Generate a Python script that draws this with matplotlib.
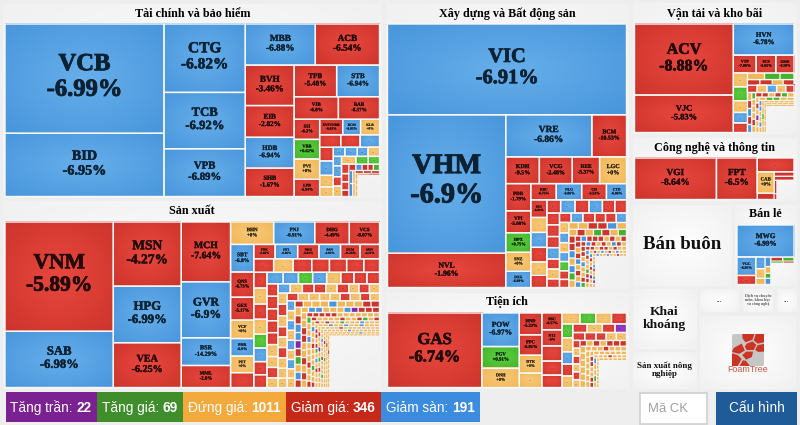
#!/usr/bin/env python
# market heatmap by sector, tiles laid out in strips from their areas (px^2)

import matplotlib
matplotlib.use("Agg")
import matplotlib.pyplot as plt
import matplotlib.patheffects as pe
from matplotlib.patches import Polygon, Rectangle, FancyBboxPatch
import numpy as np

# ---- data: each strip is one row or column of tiles, sizes are tile areas ----
fin_labels = ["VCB", "BID", "CTG", "TCB", "VPB", "MBB", "ACB", "BVH", "EIB", "HDB", "SHB", "TPB", "STB",
              "VIB", "BAB", "SSI", "VBB", "PVI", "LPB", "EVFVNDB", "BCM", "KLB"]
fin_changes = [-6.99, -6.95, -6.82, -6.92, -6.89, -6.88, -6.54, -3.46, -2.82, -6.94, -1.67, -5.48, -6.94,
               -6.8, -8.37, -6.2, 0.62, 0, -5.94, -6.63, -6.83, 0]
fin_sizes = [[17380, 10050], [5560, 4580, 3880], [2880, 2640], [1975, 1553, 1504, 1387], [1341, 1353],
             [1000, 930], [512, 502, 512, 442], [357, 277, 293], [264, 243, 243], [187, 196, 157, 132],
             [104, 113, 97, 104], [77, 90, 77, 85], [110, 96, 86], [70, 60, 60, 48],
             [45, 40, 38, 35, 40], [50, 50], [33, 33], [24, 24, 24], [14, 14, 14, 14], [12, 12], [10]]
fin_colors = ["BB", "BBB", "BR", "RRBR", "RB", "RR", "RGOR", "RBO", "RRB", "RBOO", "BBBO", "BBRO", "OGG",
              "RRRR", "RBRRG", "BB", "OO", "RRR", "OOOO", "OR", "R"]

ind_labels = ["VNM", "SAB", "MSN", "HPG", "VEA", "MCH", "GVR", "BSR", "MML", "BHN", "PNJ", "DHG", "VCS",
              "SBT", "QNS", "GEX", "VCF", "PHR", "PET", None, "PNK", "HT1", "NKG", "PAN", "DCM", "MSV"]
ind_changes = [-5.89, -6.98, -4.27, -6.99, -6.25, -7.64, -6.9, -14.29, -2.8, 0, -6.91, -4.49, -8.07,
               -6.8, -6.73, -5.17, 0, -6.9, 0, None, -5.66, -6.86, -5.61, -6.82, -11.26, -6.11]
ind_sizes = [[11840, 6086], [4365, 3842, 3046], [2943, 2760, 1365, 1085], [965, 920, 776, 676],
             [641, 587, 532, 427, 408, 385, 345], [304, 323, 304, 309, 279, 279],
             [270, 266, 252, 242, 234, 234, 214], [206, 210, 200, 196, 182, 178, 172, 168],
             [186, 174, 162, 160, 162, 150, 148, 144], [138, 138, 132, 132, 132, 132, 120, 114, 108],
             [115, 115, 110, 110, 107, 110, 95, 100, 95], [100, 105, 100, 95, 95, 95, 95, 90, 85],
             [84, 80, 80, 80, 76, 76, 76, 72, 72], [76, 76, 76, 76, 76, 72, 72, 72, 72],
             [55] * 10, [55, 55, 55, 52, 52, 52, 52, 50, 50, 50], [38] * 11, [41] * 10, [27] * 12, [28] * 11,
             [22] * 12, [21] * 12, [15] * 13, [15] * 13, [14] * 12, [14] * 12,
             [12] * 13, [12] * 13, [10] * 14, [10] * 13, [9] * 13, [9] * 12, [8] * 12, [8] * 11]
ind_colors = ["RB", "RBR", "RBBR", "OBRR", "BRROBOR", "RBRBRR", "RORRRRR", "ROROGBRR", "BBGBORRR", "RRRRROORO",
              "BORRORORO", "OROROROOO", "ROOOORORO", "BOBOBOBOO", "ROOOBOOORR", "ORBBPRGOBR", "OBBOOOBPRRR",
              "OORROORORO", "RRRRROOOOOOO", "GOOBOOOROOR", "ROOOOROORGOR", "OBOOROOOGOOR", "ROROOGOOOBOOO",
              "ORRORGOBOROOO", "OOBOOBOOBOOO", "OROOPOGOROOO", "OOOOROOOOOOOO", "OOBOOOROOOGOO", "OOOOOOBOOOOOOO",
              "OOROOOGOOOOOO", "OOOOOOOOBOOOO", "OOROOOOOOOOO", "OOOOOOOOOOOO", "OOOROOOOOOO"]

con_labels = ["VIC", "VHM", "NVL", "VRE", "BCM", "KDH", "VCG", "REE", "LGC", "PDR", "VPI", "HPX", "SNZ", "DXG",
              "KBC", "NLG", "CII", "CTD", "DIG"]
con_changes = [-6.91, -6.9, -1.96, -6.86, -10.53, -9.5, -2.48, -5.37, 0, -1.79, -5.08, 0.75, 0, -6.99,
               -6.75, -6.86, -5.53, -6.86, -6.93]
con_sizes = [[21700], [16365, 4050], [3625, 1457], [900, 880, 730, 720], [683, 550, 492, 475, 408],
             [413, 413, 402, 326], [283, 240, 240, 235, 213, 197], [182, 190, 186, 177, 164, 155],
             [148, 148, 140, 143, 127, 123, 110], [109, 109, 112, 100, 100, 96], [97, 90, 90, 85, 85, 80, 75],
             [66] * 6, [55] * 7, [48] * 7, [32] * 9, [32] * 8, [24] * 9, [24] * 8, [18] * 9, [18] * 8,
             [12] * 10, [14] * 8, [10] * 10, [11] * 8]
con_colors = ["B", "BR", "BR", "RRRO", "RRGOB", "RBRB", "ROBROR", "RBRBRR", "RRRBROR", "RBRRRB", "OBOBGRR",
              "OORRBO", "OROGROG", "RRBOBGO", "RBRRROROR", "RORBOROB", "RBROROBRO", "RROBOORG", "RRORROROO",
              "BROOGRRO", "OROBOROBOO", "BROROPOO", "OBOOBOOROO", "OOBROGPO"]

uti_labels = ["GAS", "POW", "PGV", "DNH", "HND", "PPC", "DTK", None, "BSC", "NT2"]
uti_changes = [-6.74, -6.97, 0.91, 0, -5.23, -5.91, 0, None, -6.57, -6]
uti_sizes = [[7030], [1256, 818, 716], [492, 461, 402, 325], [339, 325, 305, 284, 250], [195, 172, 172, 164],
             [150, 150, 132, 128, 124], [123, 132, 108, 100], [94, 88, 80, 80, 80], [56] * 6, [39] * 7, [39] * 6,
             [28] * 7, [26] * 6, [20] * 7, [20] * 6, [15] * 7, [17] * 5, [9] * 8, [12] * 6]
uti_colors = ["R", "BGO", "RROO", "RRRRR", "OGOR", "GOBRO", "RORP", "RRROO", "RORORO", "RORORRR", "OOOOOO",
              "OOOROOO", "OOOOOO", "ORROORR", "OOOOOO", "OOOROOO", "BOOGO", "OOOOOOOO", "OOOOOO"]

tra_labels = ["ACV", "VJC", "HVN", "VTP", "SCS", "GMD"]
tra_changes = [-8.88, -5.83, -6.78, -7.06, -5.65, -6.58]
tra_sizes = [[7020, 3704], [1887], [406, 350, 324], [195, 195, 165, 147, 135], [115, 104, 94], [70, 70, 61, 61],
             [70, 70, 70, 65, 60], [35] * 5, [26] * 6, [30] * 6, [20] * 6, [24] * 5, [15] * 6, [15] * 5,
             [11] * 6, [12] * 5, [10] * 5, [12] * 4]
tra_colors = ["RR", "B", "RRR", "OGOBR", "OGG", "RROR", "ROBOR", "ORBRB", "GOOORO", "RRORGO", "OROPOO", "OGGOO",
              "BBOOBO", "OOGOO", "OOOOOO", "OOOOO", "OOOOO", "OOOO"]

tec_labels = ["VGI", "FPT", None, "CAB"]
tec_changes = [-8.64, -6.5, None, 0]
tec_sizes = [[3400], [1693], [505], [360, 108], [90], [80], [37, 16]]
tec_colors = ["R", "R", "R", "OR", "R", "R", "RR"]

ret_labels = ["MWG", "VGC"]
ret_changes = [-6.99, -6.95]
ret_sizes = [[1822], [345, 170], [109, 90, 58], [56, 39, 29, 36], [50, 48], [22, 18]]
ret_colors = ["B", "BR", "BOO", "BOGB", "RG", "GR"]

# sector panels, same strip idea on the whole page
panel_names = ["Tài chính và bảo hiểm", "Sản xuất", "Xây dựng và Bất động sản", "Tiện ích", "Vận tải và kho bãi",
               "Công nghệ và thông tin", "Bán buôn", "Bán lẻ", "Khai\nkhoáng", "Sản xuất nông\nnghiệp",
               "...", "Dịch vụ chuyên\nmôn, khoa học\nvà công nghệ", "...", ""]
panel_sizes = [[75735, 73058], [71383, 24700], [22445], [11222], [8712, 5525], [4284, 2720], [1126, 901, 610], [7612]]
panel_fonts = [8.7, 8.7, 8.7, 8.7, 8.7, 8.7, 13.6, 8.7, 9.7, 6.5, 5, 2.9, 5, 5]
panel_tiles = {0: (fin_labels, fin_changes, fin_sizes, fin_colors),
               1: (ind_labels, ind_changes, ind_sizes, ind_colors),
               2: (con_labels, con_changes, con_sizes, con_colors),
               3: (uti_labels, uti_changes, uti_sizes, uti_colors),
               4: (tra_labels, tra_changes, tra_sizes, tra_colors),
               5: (tec_labels, tec_changes, tec_sizes, tec_colors),
               7: (ret_labels, ret_changes, ret_sizes, ret_colors)}

status_names = ["Tăng trần", "Tăng giá", "Đứng giá", "Giảm giá", "Giảm sàn"]
status_counts = [22, 69, 1011, 346, 191]
status_colors = ["#7b2192", "#3f8e2b", "#f4a93c", "#c5291a", "#3b8bde"]

# ---- style ----
SERIF = "Liberation Serif"
SANS = "Liberation Sans"
shades = {"R": ("#e9473e", "#cd352c"), "B": ("#67afeb", "#4996dc"), "O": ("#f7ca7c", "#f2b654"),
          "G": ("#60d141", "#42b32b"), "P": ("#9d3dc7", "#8329ab")}
ink = {"R": "#220b09", "B": "#0c2233", "O": "#33250d", "G": "#0c2807", "P": "#1c0a26"}


def radial(inner, outer, n=24):
    c0 = np.array(matplotlib.colors.to_rgb(inner))
    c1 = np.array(matplotlib.colors.to_rgb(outer))
    yy, xx = np.mgrid[-1:1:n * 1j, -1:1:n * 1j]
    t = np.clip(np.sqrt(xx ** 2 + yy ** 2) / 1.414, 0, 1)[..., None]
    return c0 * (1 - t) + c1 * t


gradients = {k: radial(*v) for k, v in shades.items()}
panel_shade = radial("#fefefe", "#f1f1f1")


def layout(strips, x, y, w, h):
    rects = []
    for strip in strips:
        total = sum(strip)
        if w > h:
            side = total / h
            pos = y
            for s in strip:
                rects.append((x, pos, side, s / side))
                pos += s / side
            x += side
            w -= side
        else:
            side = total / w
            pos = x
            for s in strip:
                rects.append((pos, y, s / side, side))
                pos += s / side
            y += side
            h -= side
    return rects


fig = plt.figure(figsize=(8, 4.25), dpi=100, facecolor="#eeeeee")
ax = fig.add_axes([0, 0, 1, 1])
ax.set_axis_off()


def draw_tile(rect, code, label, change):
    x, y, w, h = rect
    if min(w, h) >= 7:
        ax.imshow(gradients[code], extent=(x, x + w, y + h, y), aspect="auto", interpolation="bilinear", zorder=2)
        # white line over the image edge, images snap to pixels so a plain inset gets lost
        ax.add_patch(Rectangle((x, y), w, h, fc="none", ec="#f8f8f8", lw=1.0, snap=False, zorder=2.5))
    else:
        gap = min(1.4, 0.42 * min(w, h))
        ax.add_patch(Rectangle((x + gap / 2, y + gap / 2), w - gap, h - gap, fc=shades[code][1], ec="none",
                               snap=False, zorder=2))
    cx, cy = x + w / 2, y + h / 2
    if label:
        text = f"{change:+g}%"
        em = min(0.225 * h, 0.62 * w / (0.52 * max(len(label), len(text))))
        size = em * 0.72
        # the reference text is soft and heavy, a thin stroke gets closer
        stroke = [pe.withStroke(linewidth=size * 0.035, foreground=ink[code])]
        for dy, s in ((-0.52 * em, label), (0.52 * em, text)):
            ax.text(cx, cy + dy - 0.02 * h, s, fontsize=size, family=SERIF, weight="bold",
                    color=ink[code], ha="center", va="center", zorder=3, path_effects=stroke)
    elif min(w, h) >= 7:
        ax.text(cx, cy, "...", fontsize=2.8, family=SERIF, weight="bold", color=ink[code], alpha=0.6,
                ha="center", va="center", zorder=3)


# sector panels
flat_panels = layout(panel_sizes, 1, 2, 797, 389)
for i, (x, y, w, h) in enumerate(flat_panels):
    ax.imshow(panel_shade, extent=(x + 2, x + w - 2, y + h - 2, y + 2), aspect="auto", interpolation="bilinear", zorder=1)
    if i in panel_tiles:
        labels, changes, sizes, colors = panel_tiles[i]
        inner = (x + 4, y + 22, w - 8, h - 25.5)
        rects = layout(sizes, *inner)
        codes = "".join(colors)
        if len(rects) != len(codes) or any(len(a) != len(b) for a, b in zip(sizes, colors)):
            raise ValueError(f"panel {i}: {[(n, len(a), len(b)) for n, (a, b) in enumerate(zip(sizes, colors)) if len(a) != len(b)]}")
        for n, rect in enumerate(rects):
            name = labels[n] if n < len(labels) else None
            value = changes[n] if n < len(changes) else None
            draw_tile(rect, codes[n], name, value)
        ax.text(x + w / 2, y + 11.5, panel_names[i], fontsize=panel_fonts[i], family=SERIF, weight="bold",
                color="black", ha="center", va="center", zorder=3)
    elif panel_names[i]:
        ax.text(x + w / 2, y + h / 2 - 1, panel_names[i], fontsize=panel_fonts[i], family=SERIF, weight="bold",
                color="#111111" if panel_fonts[i] > 5 else "#555555", ha="center", va="center", linespacing=1.05, zorder=3)

# FoamTree logo
lx, ly, ls = 732, 334, 32
ax.add_patch(FancyBboxPatch((lx + 2, ly + 2), ls - 4, ls - 4, boxstyle="round,pad=2", fc="#c6c6c6", ec="none", zorder=2))
cells = [[(0.32, 0), (0.70, 0), (0.64, 0.18), (0.42, 0.26), (0.33, 0.14)],
         [(0.74, 0), (1, 0), (1, 0.26), (0.80, 0.30), (0.68, 0.2)],
         [(0.46, 0.30), (0.64, 0.23), (0.76, 0.34), (0.68, 0.50), (0.46, 0.50), (0.40, 0.40)],
         [(0.80, 0.35), (1, 0.31), (1, 0.55), (0.82, 0.56), (0.72, 0.50)],
         [(0.05, 0.44), (0.30, 0.30), (0.36, 0.42), (0.40, 0.52), (0.22, 0.62), (0, 0.56)],
         [(0.44, 0.55), (0.66, 0.55), (0.62, 0.72), (0.44, 0.80), (0.32, 0.66)],
         [(0, 0.60), (0.18, 0.66), (0.30, 0.78), (0.18, 1), (0, 1)],
         [(0.34, 0.82), (0.44, 0.84), (0.56, 1), (0.24, 1)]]
for cell in cells:
    pts = [(lx + px * ls, ly + py * ls) for px, py in cell]
    ax.add_patch(Polygon(pts, closed=True, fc="#cb3322", ec="none", zorder=3))
ax.text(lx + ls / 2, 369.5, "FoamTree", fontsize=6.4, family=SANS, color="#d2523f", ha="center", va="center", zorder=3)

ax.set_xlim(0, 800)
ax.set_ylim(425, 0)

# status bar, segment width follows its text
fig.canvas.draw()
renderer = fig.canvas.get_renderer()
pos = 5.5
for name, count, col in zip(status_names, status_counts, status_colors):
    t1 = ax.text(pos + 5, 406.5, f"{name}:", fontsize=9.8, family=SANS, color="white", ha="left", va="center_baseline", zorder=3)
    w1 = t1.get_window_extent(renderer).width + 3.6
    t2 = ax.text(pos + 5 + w1, 406.5, str(count), fontsize=9.8, family=SANS, weight="bold", color="white",
                 ha="left", va="center_baseline", zorder=3)
    w2 = t2.get_window_extent(renderer).width
    seg = w1 + w2 + 10
    ax.add_patch(Rectangle((pos, 392), seg, 29.5, fc=col, ec="none", zorder=2))
    pos += seg

# search box and button
ax.add_patch(Rectangle((639.5, 393), 67, 31, fc="white", ec="#cfcfcf", lw=1.2, zorder=2))
ax.text(648, 408.5, "Mã CK", fontsize=9.4, family=SANS, color="#a0a0a0", ha="left", va="center", zorder=3)
ax.add_patch(Rectangle((716, 392), 81, 33, fc="#1f5a99", ec="none", zorder=2))
ax.text(756.5, 408.5, "Cấu hình", fontsize=9.8, family=SANS, color="white", ha="center", va="center", zorder=3)

plt.savefig("out.png", dpi=100, facecolor=fig.get_facecolor())
